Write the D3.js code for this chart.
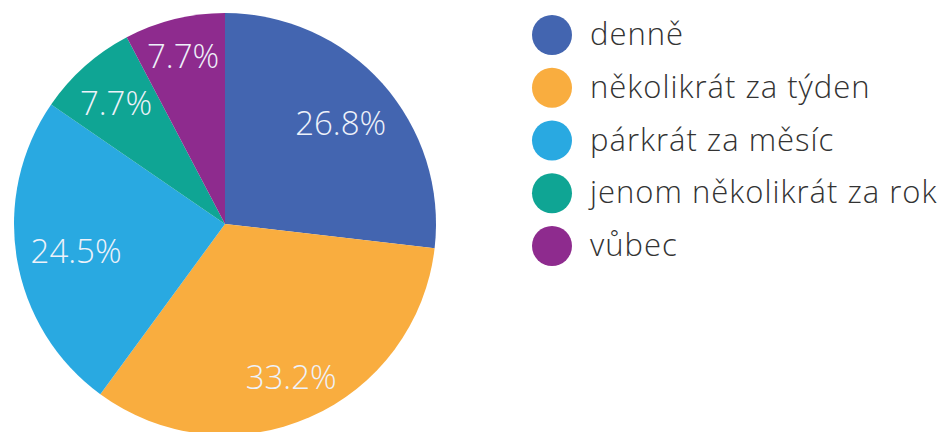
<!DOCTYPE html>
<html lang="cs">
<head>
  <meta charset="UTF-8">
  <title>Pie</title>
  <script src="https://d3js.org/d3.v7.min.js"></script>
  <style>
    body { margin: 0; background: #fff; }
  </style>
</head>
<body>
  <div id="chart"></div>
  <script>
    const categories = ["denně", "několikrát za týden", "párkrát za měsíc", "jenom několikrát za rok", "vůbec"];
    const values = [26.8, 33.2, 24.5, 7.7, 7.7];
    const colors = ["#4365b0", "#f9ad3f", "#29a9e1", "#0fa594", "#8e2b8e"];

    const width = 947, height = 432;
    const cx = 225, cy = 224, radius = 211;

    const svg = d3.select("#chart")
      .append("svg")
      .attr("width", width)
      .attr("height", height);

    const pie = d3.pie().sort(null).value(d => d);
    const arcs = pie(values);

    const arc = d3.arc().innerRadius(0).outerRadius(radius);

    const color = d3.scaleOrdinal().domain(categories).range(colors);

    const g = svg.append("g").attr("transform", `translate(${cx},${cy})`);

    g.selectAll("path")
      .data(arcs)
      .enter()
      .append("path")
      .attr("d", arc)
      .attr("fill", (d, i) => color(categories[i]));

    // best-fit labels: push each label out along its mid angle until
    // the far corner of its box sits a fixed distance from the centre
    const cornerDist = 198, halfH = 12;
    g.selectAll(".label")
      .data(arcs)
      .enter()
      .append("text")
      .attr("class", "label")
      .attr("text-anchor", "middle")
      .attr("dy", "0.42em")
      .attr("font-family", "'Open Sans', sans-serif")
      .attr("font-weight", 300)
      .attr("font-size", "33px")
      .attr("fill", "#eef2fa")
      .text(d => d.data.toFixed(1) + "%")
      .attr("transform", function(d) {
        const a = (d.startAngle + d.endAngle) / 2;
        const ux = Math.sin(a), uy = -Math.cos(a);
        const w = this.getComputedTextLength() / 2;
        const b = w * Math.abs(ux) + halfH * Math.abs(uy);
        const c = w * w + halfH * halfH - cornerDist * cornerDist;
        const t = -b + Math.sqrt(b * b - c);
        return `translate(${t * ux},${t * uy})`;
      });

    // legend
    const legendY = d3.scalePoint()
      .domain(categories)
      .range([35, 246]);

    const legend = svg.append("g");

    legend.selectAll("circle")
      .data(categories)
      .enter()
      .append("circle")
      .attr("cx", 552)
      .attr("cy", d => legendY(d))
      .attr("r", 20)
      .attr("fill", d => color(d));

    legend.selectAll("text")
      .data(categories)
      .enter()
      .append("text")
      .attr("x", 590)
      .attr("y", d => legendY(d))
      .attr("dy", "0.33em")
      .attr("font-family", "'Open Sans', sans-serif")
      .attr("font-weight", 300)
      .attr("font-size", "31px")
      .attr("letter-spacing", "1px")
      .attr("fill", "#333333")
      .text(d => d);
  </script>
</body>
</html>
